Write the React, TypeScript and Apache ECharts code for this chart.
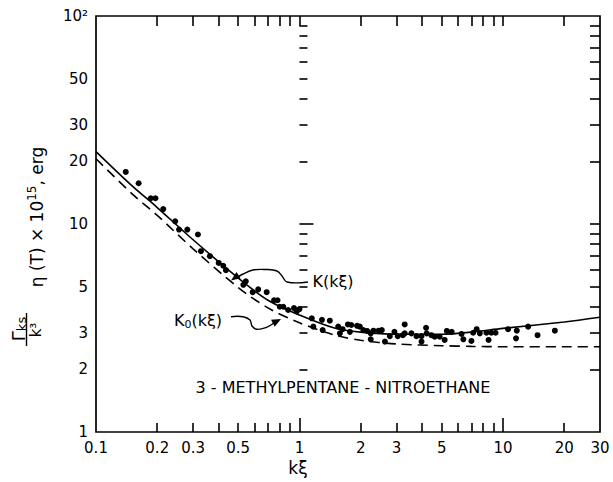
import React, { useEffect, useRef } from 'react';
import * as echarts from 'echarts';

// Measured points (kξ, Γ_ks η / k³ × 10^15 erg)
const measuredKXi = [
  0.14, 0.162, 0.186, 0.196, 0.214, 0.245, 0.256, 0.281, 0.317, 0.328, 0.363, 0.401, 0.422, 0.435,
  0.53, 0.545, 0.589, 0.627, 0.69, 0.75, 0.78, 0.8, 0.833, 0.88, 0.94, 0.97, 1.0,
  1.15, 1.17, 1.29, 1.3, 1.41, 1.55, 1.58, 1.63, 1.73, 1.77, 1.8, 1.92, 1.98,
  2.06, 2.15, 2.24, 2.24, 2.31, 2.45, 2.54, 2.63, 2.78, 2.93, 3.04, 3.22, 3.29, 3.29,
  3.55, 3.76, 3.98, 3.98, 4.19, 4.22, 4.45, 4.62, 4.89, 5.17, 5.3, 5.6, 6.26, 6.39,
  7.0, 7.14, 7.43, 7.7, 8.3, 8.5, 8.77, 9.2, 10.6, 11.6, 11.7, 13.3, 14.8, 18.0,
];
const measuredGamma = [
  17.8, 15.7, 13.3, 13.3, 11.8, 10.3, 9.4, 9.4, 8.9, 7.4, 7.0, 6.5, 6.3, 6.0,
  5.1, 5.3, 4.7, 4.85, 4.7, 4.3, 4.3, 4.0, 4.0, 3.86, 3.94, 3.8, 3.9,
  3.52, 3.21, 3.46, 3.09, 3.43, 3.21, 2.98, 3.12, 3.29, 3.03, 3.27, 3.24, 3.21,
  3.09, 3.06, 2.98, 2.79, 3.07, 3.07, 3.09, 2.72, 2.89, 3.03, 2.89, 2.92, 3.29, 2.98,
  2.98, 2.89, 2.89, 2.72, 3.17, 2.98, 2.92, 2.87, 2.87, 2.77, 3.06, 3.03, 2.96, 2.79,
  2.74, 3.0, 3.12, 2.98, 3.0, 2.77, 3.0, 3.0, 3.12, 2.82, 3.07, 3.21, 2.92, 3.07,
];

// Theory curves
const curveKXi = [0.1, 0.15, 0.2, 0.3, 0.5, 0.7, 1, 1.5, 2, 3, 5, 7, 10, 20, 30];
const curveK = [22.3, 15.3, 12.0, 8.4, 5.5, 4.3, 3.65, 3.15, 3.02, 2.95, 2.95, 3.02, 3.15, 3.38, 3.56];
const curveK0 = [20.6, 14.0, 11.0, 7.6, 4.95, 3.95, 3.35, 2.92, 2.76, 2.65, 2.6, 2.58, 2.57, 2.57, 2.57];

// Axis ticks and labels
const xMinorTicks = [0.2, 0.3, 0.4, 0.5, 0.6, 0.7, 0.8, 0.9, 2, 3, 4, 5, 6, 7, 8, 9, 20];
const xMajorTicks = [1, 10];
const xLabelValues = [0.1, 0.2, 0.3, 0.5, 1, 2, 3, 5, 10, 20, 30];
const xLabelTexts = ['0.1', '0.2', '0.3', '0.5', '1', '2', '3', '5', '10', '20', '30'];
const yMinorTicks = [2, 3, 4, 5, 6, 7, 8, 9, 20, 30, 40, 50, 60, 70, 80, 90];
const yMajorTicks = [10];
const yLabelValues = [1, 2, 3, 5, 10, 20, 30, 50, 100];
const yLabelTexts = ['1', '2', '3', '5', '10', '20', '30', '50', '10²'];

const X_MIN = 0.1;
const X_MAX = 30;
const Y_MIN = 1;
const Y_MAX = 100;
const FONT = "'DejaVu Sans', 'Liberation Sans', sans-serif";
const INK = '#000';
const TW = 1.6;

// helper axis (decade scale of the same range) that only carries inward tick marks
const tickAxis = (position: string, min: number, max: number, values: number[], length: number) => ({
  type: 'value',
  position,
  min: Math.log10(min),
  max: Math.log10(max),
  axisLine: { show: false },
  axisLabel: { show: false },
  splitLine: { show: false },
  axisTick: {
    show: true,
    inside: true,
    length,
    customValues: values.map((v) => Math.log10(v)),
    lineStyle: { color: INK, width: TW },
  },
});

export default function App() {
  const ref = useRef<HTMLDivElement>(null);

  useEffect(() => {
    if (!ref.current) return;
    const chart = echarts.init(ref.current, undefined, { renderer: 'svg' });

    const option: any = {
      animation: false,
      grid: {
        left: 96,
        right: 13,
        top: 16,
        bottom: 50,
        show: true,
        borderColor: INK,
        borderWidth: 1.7,
      },
      xAxis: [
        {
          type: 'log',
          min: X_MIN,
          max: X_MAX,
          axisLine: { show: false },
          axisTick: { show: false },
          axisLabel: { show: false },
          splitLine: { show: false },
        },
        tickAxis('bottom', X_MIN, X_MAX, xMinorTicks, 9),
        tickAxis('bottom', X_MIN, X_MAX, xMajorTicks, 14),
        tickAxis('top', X_MIN, X_MAX, [...xMinorTicks, ...xMajorTicks], 10),
      ],
      yAxis: [
        {
          type: 'log',
          min: Y_MIN,
          max: Y_MAX,
          axisLine: { show: false },
          axisTick: { show: false },
          axisLabel: { show: false },
          splitLine: { show: false },
        },
        tickAxis('left', Y_MIN, Y_MAX, yMinorTicks, 8),
        tickAxis('left', Y_MIN, Y_MAX, yMajorTicks, 14),
        tickAxis('right', Y_MIN, Y_MAX, [...yMinorTicks, ...yMajorTicks], 10),
      ],
      series: [
        {
          name: 'K(kξ)',
          type: 'line',
          xAxisIndex: 0,
          yAxisIndex: 0,
          data: curveKXi.map((x, i) => [x, curveK[i]]),
          smooth: 0.3,
          symbol: 'none',
          lineStyle: { color: INK, width: 1.6 },
          z: 3,
        },
        {
          name: 'K0(kξ)',
          type: 'line',
          xAxisIndex: 0,
          yAxisIndex: 0,
          data: curveKXi.map((x, i) => [x, curveK0[i]]),
          smooth: 0.3,
          symbol: 'none',
          lineStyle: { color: INK, width: 1.6, type: [10, 6] },
          z: 3,
        },
        {
          name: 'measured',
          type: 'scatter',
          xAxisIndex: 0,
          yAxisIndex: 0,
          data: measuredKXi.map((x, i) => [x, measuredGamma[i]]),
          symbol: 'circle',
          symbolSize: 6,
          itemStyle: { color: INK, opacity: 1 },
          z: 4,
        },
      ],
    };

    chart.setOption(option);

    const px = (x: number, y: number) =>
      chart.convertToPixel({ xAxisIndex: 0, yAxisIndex: 0 }, [x, y]) as number[];
    const els: any[] = [];

    xLabelValues.forEach((v, i) => {
      const p = px(v, Y_MIN);
      els.push({ type: 'text', x: p[0], y: p[1] + 8, style: { text: xLabelTexts[i], fontSize: 15, fontFamily: FONT, fill: INK, align: 'center', verticalAlign: 'top' } });
    });
    yLabelValues.forEach((v, i) => {
      const p = px(X_MIN, v);
      els.push({ type: 'text', x: p[0] - 8, y: p[1], style: { text: yLabelTexts[i], fontSize: 15, fontFamily: FONT, fill: INK, align: 'right', verticalAlign: 'middle' } });
    });

    els.push(
      // x-axis title
      { type: 'text', x: 298, y: 468, style: { text: 'kξ', fontSize: 17, fontFamily: FONT, fill: INK, align: 'center', verticalAlign: 'middle' } },
      // system name
      { type: 'text', x: 343, y: 387, style: { text: '3 - METHYLPENTANE - NITROETHANE', fontSize: 16, fontFamily: FONT, fill: INK, align: 'center', verticalAlign: 'middle' } },
      // K(kξ) annotation
      { type: 'text', x: 333, y: 281, style: { text: 'K(kξ)', fontSize: 16, fontFamily: FONT, fill: INK, align: 'center', verticalAlign: 'middle' } },
      {
        type: 'polyline',
        shape: { points: [[308, 282], [287, 282], [282, 276], [277, 271], [266, 269.5], [253, 270], [243, 274], [237, 277.5]], smooth: 0.4 },
        style: { stroke: INK, lineWidth: 1.4, fill: 'none' },
      },
      { type: 'polygon', shape: { points: [[231, 280.5], [240.5, 278.2], [236.5, 272]] }, style: { fill: INK } },
      // K0(kξ) annotation
      {
        type: 'text',
        x: 198,
        y: 320,
        style: {
          text: '{a|K}{s|0}{a|(kξ)}',
          fontFamily: FONT,
          fill: INK,
          align: 'center',
          verticalAlign: 'middle',
          rich: {
            a: { fontSize: 16, lineHeight: 20, fontFamily: FONT, fill: INK, verticalAlign: 'middle' },
            s: { fontSize: 11, lineHeight: 11, fontFamily: FONT, fill: INK, verticalAlign: 'bottom' },
          },
        },
      },
      {
        type: 'polyline',
        shape: { points: [[231, 316.7], [243, 316.7], [250, 320], [252, 326], [257, 329.3], [266.5, 327.3], [274, 323]], smooth: 0.4 },
        style: { stroke: INK, lineWidth: 1.4, fill: 'none' },
      },
      { type: 'polygon', shape: { points: [[281, 319], [274.7, 326.8], [271, 319.8]] }, style: { fill: INK } },
      // y-axis title (rotated)
      {
        type: 'text',
        x: 18,
        y: 329,
        rotation: Math.PI / 2,
        style: {
          text: '{g|Γ}{s|ks}',
          fontFamily: FONT,
          fill: INK,
          align: 'center',
          verticalAlign: 'middle',
          rich: {
            g: { fontSize: 18, lineHeight: 20, fontFamily: FONT, fill: INK, verticalAlign: 'middle' },
            s: { fontSize: 13, lineHeight: 13, fontFamily: FONT, fill: INK, verticalAlign: 'bottom' },
          },
        },
      },
      { type: 'line', shape: { x1: 26.5, y1: 313, x2: 26.5, y2: 346 }, style: { stroke: INK, lineWidth: 1.4 } },
      { type: 'text', x: 36, y: 330, rotation: Math.PI / 2, style: { text: 'k³', fontSize: 15, fontFamily: FONT, fill: INK, align: 'center', verticalAlign: 'middle' } },
      {
        type: 'text',
        x: 37,
        y: 217,
        rotation: Math.PI / 2,
        style: {
          text: '{a|η (T) × 10}{b|15}{a|, erg}',
          fontFamily: FONT,
          fill: INK,
          align: 'center',
          verticalAlign: 'middle',
          rich: {
            a: { fontSize: 17, lineHeight: 22, fontFamily: FONT, fill: INK, verticalAlign: 'middle' },
            b: { fontSize: 12, lineHeight: 12, fontFamily: FONT, fill: INK, verticalAlign: 'top' },
          },
        },
      },
    );

    chart.setOption({ graphic: els });

    return () => chart.dispose();
  }, []);

  return <div ref={ref} style={{ width: 613, height: 482, position: 'absolute', left: 0, top: 0 }} />;
}
